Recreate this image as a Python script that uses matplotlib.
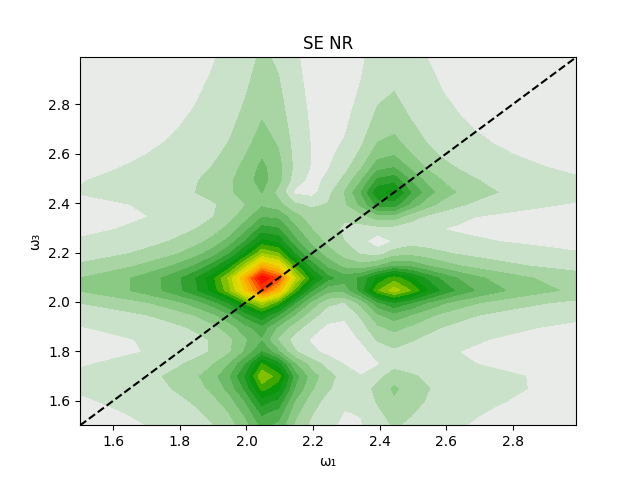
import numpy as np
import matplotlib
matplotlib.use("Agg")
import matplotlib.pyplot as plt
from matplotlib.colors import LinearSegmentedColormap

# peaks: (w1, w3) position, height, widths along w1 / w3
peak_w1 = [2.065, 2.415, 2.42, 2.07, 2.05, 2.44]
peak_w3 = [2.08, 2.425, 2.06, 1.72, 2.5, 1.65]
peak_amp = [1.0, 0.47, 0.53, 0.52, 0.025, 0.06]
peak_g1 = [0.072, 0.065, 0.085, 0.045, 0.04, 0.05]
peak_g3 = [0.072, 0.065, 0.04, 0.075, 0.08, 0.06]

w_lo, w_hi, n_pts = 1.5, 2.99, 31

w = np.linspace(w_lo, w_hi, n_pts)
W1, W3 = np.meshgrid(w, w)
S = np.zeros_like(W1, dtype=complex)
for a, b, amp, g1, g3 in zip(peak_w1, peak_w3, peak_amp, peak_g1, peak_g3):
    S += amp * (1j * g1) * (1j * g3) / ((W1 - a + 1j * g1) * (W3 - b + 1j * g3))
Z = np.abs(S)
Z = Z / Z.max()

cmap = LinearSegmentedColormap.from_list("se", [
    (0.0, "#e9ebe9"), (0.03, "#e9ebe9"), (0.075, "#c9e2c9"), (0.125, "#a8d5a3"),
    (0.175, "#88c983"), (0.225, "#6cbb68"), (0.275, "#50ae4c"), (0.325, "#30a030"),
    (0.375, "#18981a"), (0.425, "#0a960a"), (0.475, "#40a800"), (0.525, "#80c000"),
    (0.65, "#e6e000"), (0.8, "#ffa000"), (0.9, "#ff4000"), (1.0, "#ff0000")])

fig, ax = plt.subplots(figsize=(6.4, 4.78))
ax.contourf(W1, W3, Z, levels=20, cmap=cmap)
ax.plot([w_lo, w_hi], [w_lo, w_hi], "k--")
ax.set_xlim(w_lo, w_hi)
ax.set_ylim(w_lo, w_hi)
ax.set_title("SE NR")
ax.set_xlabel("ω₁")
ax.set_ylabel("ω₃")
plt.savefig("out.png")
